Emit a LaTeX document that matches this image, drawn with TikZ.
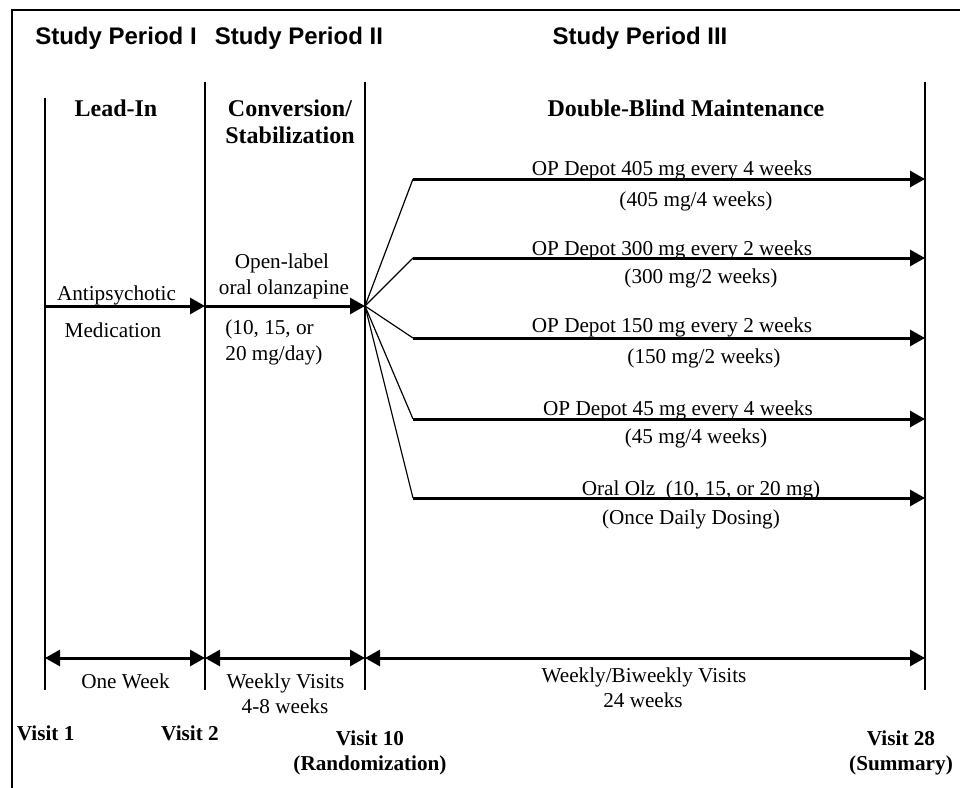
\documentclass[tikz,border=0pt]{standalone}
\usepackage{fontspec}
\setmainfont{Liberation Serif}
\newfontfamily\headfont{Liberation Sans}
\usepackage{tikz}
\usetikzlibrary{arrows.meta}
\tikzstyle{txt}=[inner sep=0pt, anchor=base, font=\fontsize{10.6}{12.7}\selectfont]
\tikzstyle{visit}=[inner sep=0pt, anchor=base, font=\fontsize{10.6}{12.7}\selectfont\bfseries]
\tikzstyle{period}=[inner sep=0pt, anchor=base, font=\headfont\bfseries\fontsize{12}{14}\selectfont]
\tikzstyle{phase}=[inner sep=0pt, anchor=base, font=\bfseries\fontsize{12}{14}\selectfont]
\tikzstyle{rule}=[line width=0.6pt]
\tikzstyle{frame}=[line width=0.8pt]
\tikzstyle{arm}=[line width=1.5pt, -{Triangle[length=7.5pt,width=8pt]}]
\tikzstyle{span}=[line width=1.5pt, {Triangle[length=7.5pt,width=8pt]}-{Triangle[length=7.5pt,width=8pt]}]

\begin{document}
\begin{tikzpicture}
        [x=0.5pt,y=-0.5pt]
            \useasboundingbox (0,0) rectangle (960,788);
            % frame (cut off at right and bottom)
            \coordinate (fb) at (12,788);
            \coordinate (fc) at (12,10);
            \coordinate (fr) at (960,10);
            \draw [frame] (fb) -- (fc) -- (fr);
            % period headings
            \node [period] (p1) at (116,44) {Study Period I};
            \node [period] (p2) at (299,44) {Study Period II};
            \node [period] (p3) at (640,44) {Study Period III};
            % vertical rules
            \coordinate (v1t) at (45,98);   \coordinate (v1b) at (45,690);
            \coordinate (v2t) at (205,82);  \coordinate (v2b) at (205,690);
            \coordinate (v3t) at (365,82);  \coordinate (v3b) at (365,690);
            \coordinate (v4t) at (925,82);  \coordinate (v4b) at (925,690);
            \draw [rule] (v1t) -- (v1b);
            \draw [rule] (v2t) -- (v2b);
            \draw [rule] (v3t) -- (v3b);
            \draw [rule] (v4t) -- (v4b);
            % phase names
            \node [phase] (lead) at (116,116) {Lead-In};
            \node [phase] (conv) at (290,116) {Conversion/};
            \node [phase] (stab) at (290,143) {Stabilization};
            \node [phase] (dbm) at (686,116) {Double-Blind Maintenance};
            % lead-in and conversion arrows
            \coordinate (start) at (45,306);
            \coordinate (mid) at (205,306);
            \coordinate (rand) at (365,306);
            \draw [arm] (start) -- (mid);
            \draw [arm] (mid) -- (rand);
            \node [txt] (anti) at (116.5,300) {Antipsychotic};
            \node [txt] (med) at (113,337) {Medication};
            \node [txt] (open) at (282,268) {Open-label};
            \node [txt] (oral) at (284,294) {oral olanzapine};
            \node [txt, anchor=base west] (dose1) at (225,334) {(10, 15, or};
            \node [txt, anchor=base west] (dose2) at (225,360) {20 mg/day)};
            % randomized arms
            \coordinate (b1) at (413,179); \coordinate (e1) at (925,179);
            \coordinate (b2) at (413,258); \coordinate (e2) at (925,258);
            \coordinate (b3) at (413,338); \coordinate (e3) at (925,338);
            \coordinate (b4) at (413,419); \coordinate (e4) at (925,419);
            \coordinate (b5) at (413,498); \coordinate (e5) at (925,498);
            \draw [rule] (rand) -- (b1) ;
            \draw [rule] (rand) -- (b2) ;
            \draw [rule] (rand) -- (b3) ;
            \draw [rule] (rand) -- (b4) ;
            \draw [rule] (rand) -- (b5) ;
            \draw [arm] (b1) -- (e1) ;
            \draw [arm] (b2) -- (e2) ;
            \draw [arm] (b3) -- (e3) ;
            \draw [arm] (b4) -- (e4) ;
            \draw [arm] (b5) -- (e5) ;
            \node [txt] (a1) at (672,175) {OP Depot 405 mg every 4 weeks};
            \node [txt] (a1b) at (696,206) {(405 mg/4 weeks)};
            \node [txt] (a2) at (672,255) {OP Depot 300 mg every 2 weeks};
            \node [txt] (a2b) at (701,283) {(300 mg/2 weeks)};
            \node [txt] (a3) at (672,332) {OP Depot 150 mg every 2 weeks};
            \node [txt] (a3b) at (704,363) {(150 mg/2 weeks)};
            \node [txt] (a4) at (678,415) {OP Depot 45 mg every 4 weeks};
            \node [txt] (a4b) at (696,443) {(45 mg/4 weeks)};
            \node [txt] (a5) at (701,495) {Oral Olz\ \ (10, 15, or 20 mg)};
            \node [txt] (a5b) at (691,524) {(Once Daily Dosing)};
            % durations
            \coordinate (s1) at (45,658);
            \coordinate (s2) at (205,658);
            \coordinate (s3) at (365,658);
            \coordinate (s4) at (925,658);
            \draw [span] (s1) -- (s2);
            \draw [span] (s2) -- (s3);
            \draw [span] (s3) -- (s4);
            \node [txt] (wk1) at (125.5,688) {One Week};
            \node [txt] (wk2) at (285.5,688) {Weekly Visits};
            \node [txt] (wk2b) at (285,713) {4-8 weeks};
            \node [txt] (wk3) at (644,682) {Weekly/Biweekly Visits};
            \node [txt] (wk3b) at (643,707) {24 weeks};
            % visits
            \node [visit] (vis1) at (45.7,740) {Visit 1};
            \node [visit] (vis2) at (190,740) {Visit 2};
            \node [visit] (vis10) at (370,745) {Visit 10};
            \node [visit] (vis10b) at (370,770) {(Randomization)};
            \node [visit] (vis28) at (901,745) {Visit 28};
            \node [visit] (vis28b) at (901,770) {(Summary)};
        \end{tikzpicture}
\end{document}
